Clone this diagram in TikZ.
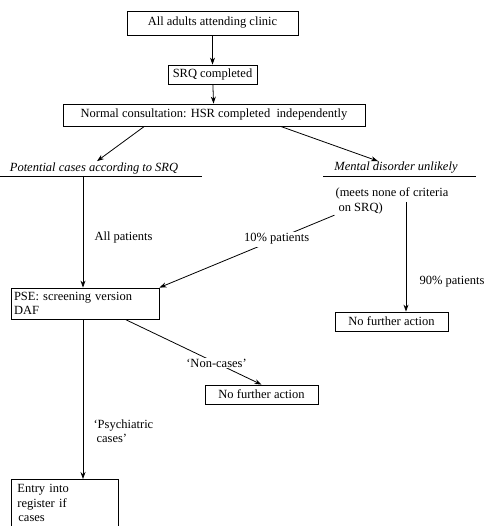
\documentclass[tikz,border=0pt]{standalone}
\usepackage{fontspec}
\setmainfont{Liberation Serif}
\usepackage{tikz}
\usetikzlibrary{calc,arrows.meta}

\tikzset{
        box/.style={draw, line width=0.8pt, inner sep=0pt},
        arr/.style={line width=0.8pt, -{Stealth[length=7pt,width=5pt]}},
    }

\begin{document}
\fontsize{12.5}{14.5}\selectfont
\begin{tikzpicture}[x=1pt,y=-1pt]
\clip (0,0) rectangle (486,526);

\node[box, minimum width=171pt, minimum height=24pt] (adults) at (212.5,23) {All adults attending clinic};
\node[box, minimum width=89pt, minimum height=19pt] (srq) at (212.5,74.5) {SRQ completed};
\node[box, minimum width=302pt, minimum height=22pt] (consult) at (214,115) {Normal consultation: HSR completed\ \ independently};

\draw[arr] (adults) -- (srq);
\draw[arr] (srq) -- (consult);

\node[inner sep=1pt] (potential) at (94,168) {\itshape Potential cases according to SRQ};
\node[inner sep=1pt] (mental) at (396,168) {\itshape Mental disorder unlikely};
\draw[line width=0.8pt] (0,176) -- (202,176);
\draw[line width=0.8pt] (323,176) -- (476,176);

\draw[arr] ($(consult.south west)!0.27!(consult.south east)$) -- ([xshift=3pt]potential.north);
\draw[arr] ($(consult.south west)!0.72!(consult.south east)$) -- ([xshift=-18pt]mental.north);

\node[align=left, inner sep=1pt] (meets) at (392,201) {(meets none of criteria\\\hspace{3pt}on SRQ)};

\node[box, minimum height=31pt, text width=142pt, inner xsep=3pt, inner ysep=2pt, align=left] (pse) at (85,303.5) {PSE: screening version\\DAF};
\node[box, minimum width=113pt, minimum height=19pt] (nfar) at (391.5,321.5) {No further action};
\node[box, minimum width=113pt, minimum height=19pt] (nfam) at (261.5,394.5) {No further action};
\node[box, anchor=north west, text width=95pt, inner xsep=6pt, inner ysep=5pt, align=left] (entry) at (11,479) {Entry into\\register if\\\hspace{1pt}cases};

\coordinate (potA) at (83,176);
\coordinate (m90) at (406,202);

\draw[arr] (potA) -- (potA |- pse.north) node[pos=0.55, right=7pt] {All patients};
\draw[arr] (meets.south west) -- (pse.north east) node[pos=0.33, fill=white, inner sep=2pt] {10\% patients};
\draw[arr] (m90) -- (m90 |- nfar.north) node[pos=0.73, right=9pt] {90\% patients};
\draw[arr] ($(pse.south west)!0.77!(pse.south east)$) -- (nfam.north) node[pos=0.67, fill=white, inner sep=1pt] {`Non-cases'};
\draw[arr] (pse.south -| potA) -- (entry.north -| potA) node[pos=0.7, right=6pt, align=left] {`Psychiatric\\\hspace{3pt}cases'};
\end{tikzpicture}
\end{document}
